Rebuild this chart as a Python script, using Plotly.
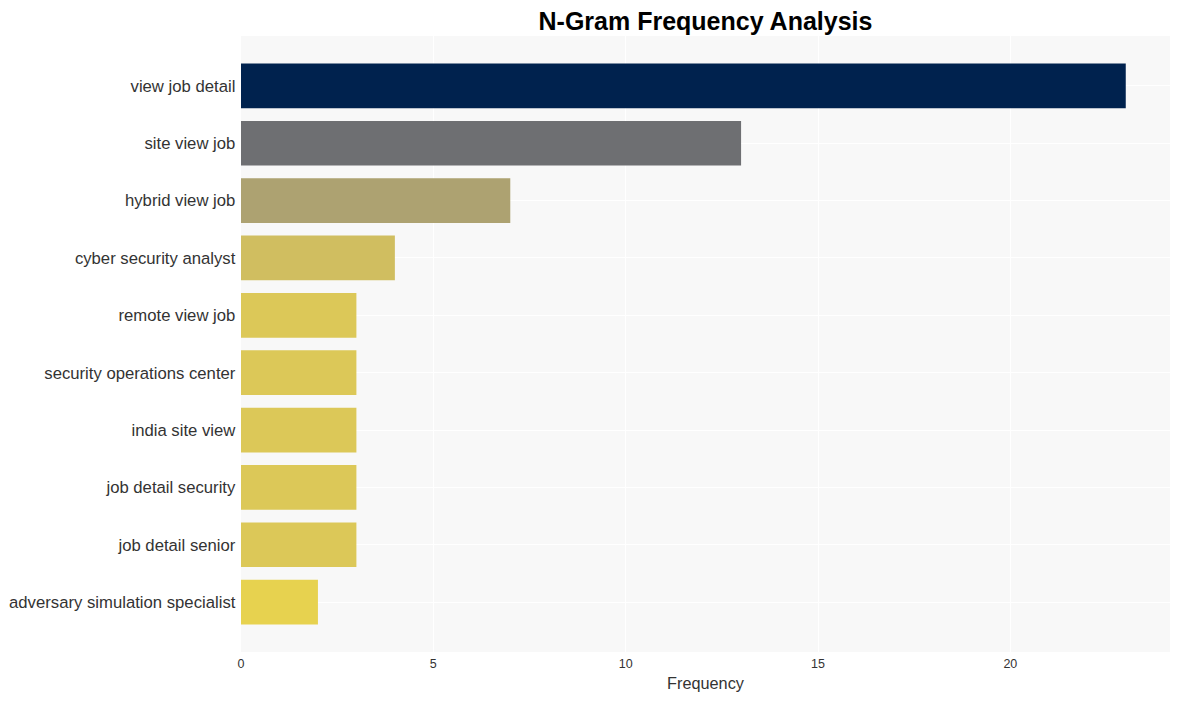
import plotly.graph_objects as go

# n-grams listed top to bottom
ngrams = [
    "view job detail",
    "site view job",
    "hybrid view job",
    "cyber security analyst",
    "remote view job",
    "security operations center",
    "india site view",
    "job detail security",
    "job detail senior",
    "adversary simulation specialist",
]
frequency = [23, 13, 7, 4, 3, 3, 3, 3, 3, 2]

fig = go.Figure(
    data=[
        go.Bar(
            x=frequency,
            y=ngrams,
            orientation="h",
            marker=dict(
                color=frequency,
                colorscale="cividis_r",
                cmin=0,
                cmax=max(frequency),
                line=dict(width=0),
            ),
        )
    ]
)

# page body keeps an 8px margin, so the figure is sized to fit inside it
fig.update_layout(
    width=1172,
    height=693,
    title=dict(
        text="<b>N-Gram Frequency Analysis</b>",
        xref="paper",
        x=0.5,
        xanchor="center",
        y=0.981,
        yanchor="middle",
        font=dict(family="Arial, Liberation Sans, sans-serif", size=25, color="#000"),
    ),
    font=dict(family="Arial, Liberation Sans, sans-serif", color="#333"),
    plot_bgcolor="#f8f8f8",
    paper_bgcolor="white",
    bargap=0.22,
    showlegend=False,
    margin=dict(l=233, r=10, t=28, b=49, pad=0),
)

fig.update_xaxes(
    title=dict(text="Frequency", font=dict(size=16.3), standoff=8),
    range=[0, 24.15],
    tickvals=[0, 5, 10, 15, 20],
    tickfont=dict(size=12.5),
    ticklabelstandoff=2,
    gridcolor="white",
    gridwidth=1,
    zeroline=False,
    showline=False,
    automargin=False,
)

fig.update_yaxes(
    range=[9.87, -0.87],
    tickfont=dict(size=16.7),
    gridcolor="white",
    gridwidth=1,
    ticksuffix=" ",
    showline=False,
    automargin=False,
)

fig.write_html("out.html")
